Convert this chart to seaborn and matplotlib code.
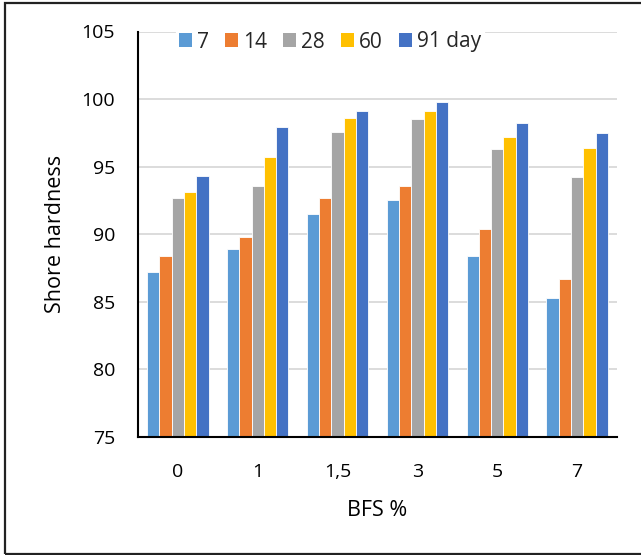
import matplotlib
matplotlib.use("Agg")
import matplotlib.pyplot as plt
from matplotlib.patches import Rectangle
import seaborn as sns
import pandas as pd

# Shore hardness by BFS content and curing age
bfs_levels = ["0", "1", "1,5", "3", "5", "7"]
age_labels = ["7", "14", "28", "60", "91 day"]
day7 = [87.2, 88.9, 91.5, 92.5, 88.4, 85.3]
day14 = [88.4, 89.8, 92.7, 93.6, 90.4, 86.7]
day28 = [92.7, 93.6, 97.6, 98.5, 96.3, 94.2]
day60 = [93.1, 95.7, 98.6, 99.1, 97.2, 96.4]
day91 = [94.3, 97.9, 99.1, 99.8, 98.2, 97.5]
palette = ["#5B9BD5", "#ED7D31", "#A5A5A5", "#FFC000", "#4472C4"]

series = [day7, day14, day28, day60, day91]
rows = []
for age, vals in zip(age_labels, series):
    for bfs, v in zip(bfs_levels, vals):
        rows.append({"BFS": bfs, "age": age, "hardness": v})
df = pd.DataFrame(rows)

sns.set_theme(style="white")
plt.rcParams["font.family"] = ["Open Sans", "DejaVu Sans"]

fig = plt.figure(figsize=(6.41, 5.55), dpi=100)
ax = fig.add_axes([138 / 641, 1 - 437 / 555, (617 - 138) / 641, (437 - 31.5) / 555])

sns.barplot(data=df, x="BFS", y="hardness", hue="age", order=bfs_levels,
            hue_order=age_labels, palette=palette, width=0.77, gap=0,
            edgecolor="white", linewidth=0.6, saturation=1, ax=ax)

ax.set_ylim(75, 105)
ax.set_yticks([75, 80, 85, 90, 95, 100, 105])
ax.yaxis.grid(True, color="#D9D9D9", linewidth=1.3)
ax.set_axisbelow(True)
for side in ["top", "right"]:
    ax.spines[side].set_visible(False)
for side in ["left", "bottom"]:
    ax.spines[side].set_color("black")
    ax.spines[side].set_linewidth(1.5)
ax.tick_params(axis="both", length=0, labelsize=14, labelcolor="black")
ax.tick_params(axis="y", pad=16.5)
ax.tick_params(axis="x", pad=18.5)
ax.set_xlabel("BFS %", fontsize=15.5, color="black", labelpad=14)
ax.set_ylabel("Shore hardness", fontsize=15.5, color="black", labelpad=11)

leg = ax.legend(loc="center", bbox_to_anchor=(330 / 641, 1 - 42 / 555),
                bbox_transform=fig.transFigure, ncol=5, frameon=True,
                fontsize=15, handlelength=0.62, handleheight=0.62,
                handletextpad=0.22, columnspacing=0.8, borderpad=0.15)
leg.get_frame().set_facecolor("white")
leg.get_frame().set_edgecolor("white")
leg.get_frame().set_alpha(1)
for h in leg.legend_handles:
    h.set_edgecolor("none")

# outer frame
fig.patches.append(Rectangle((5 / 641, 1.5 / 555), 1.0, 1 - 4.5 / 555,
                             transform=fig.transFigure, fill=False,
                             edgecolor="#222222", linewidth=1.6,
                             clip_on=False))

fig.savefig("out.png", dpi=100)
